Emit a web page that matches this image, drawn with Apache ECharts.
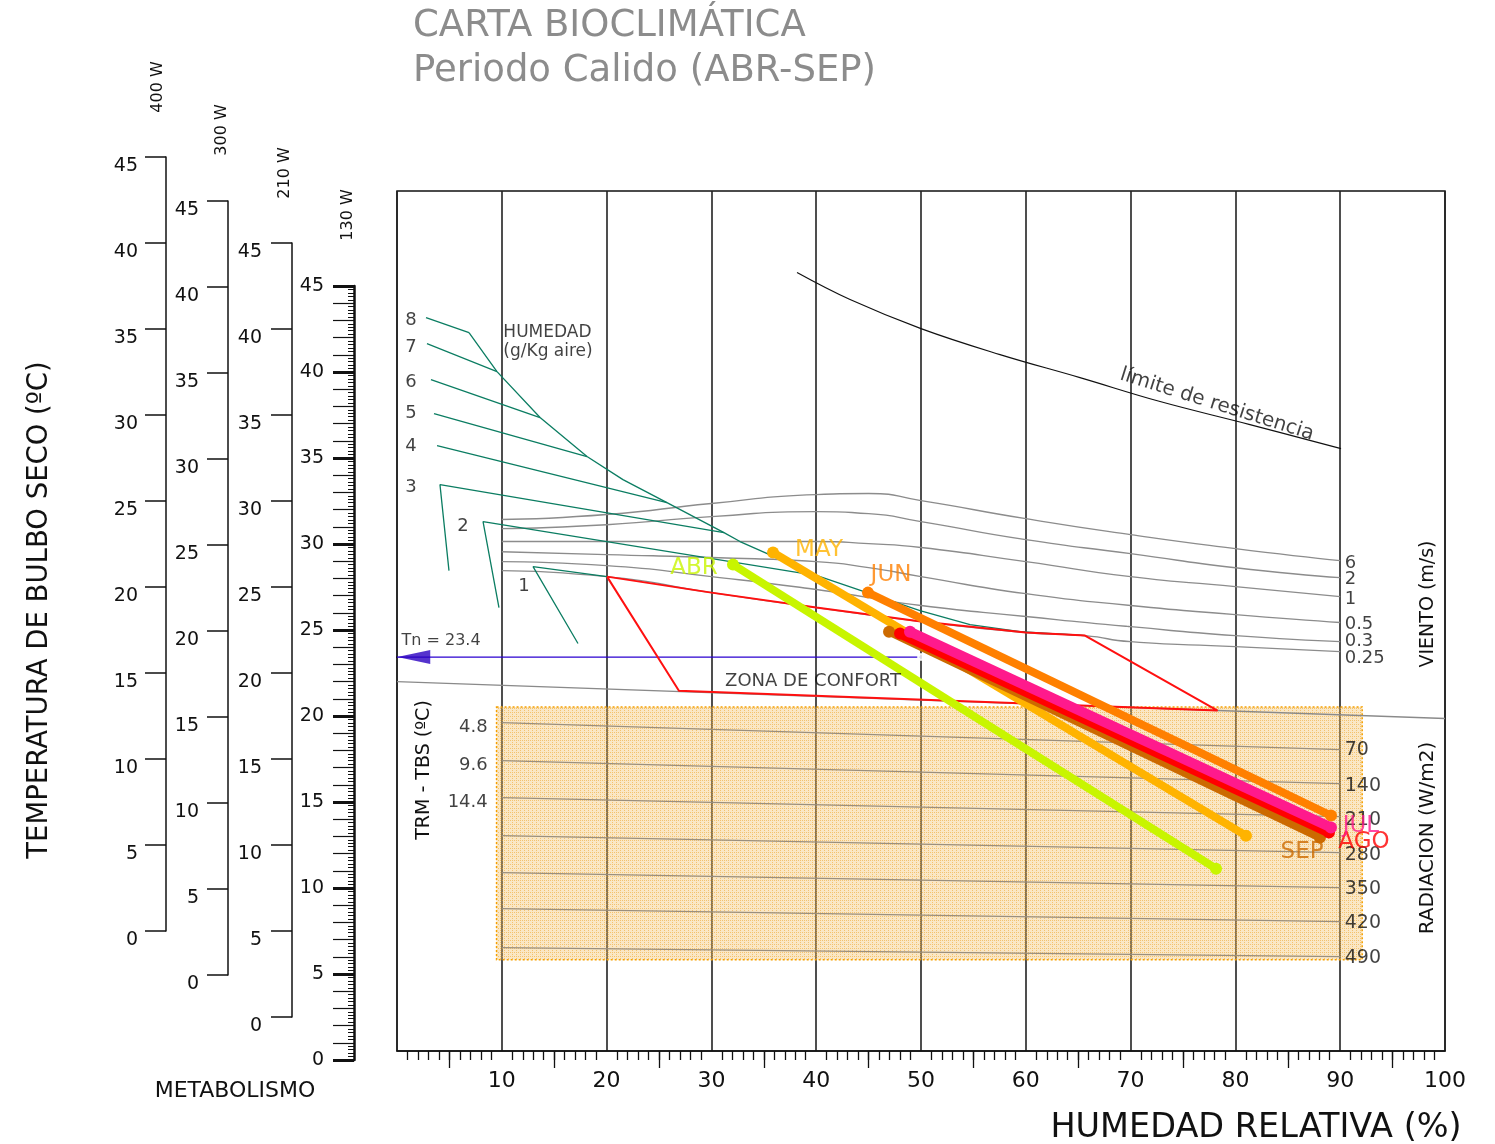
<!DOCTYPE html>
<html>
<head>
<meta charset="utf-8" />
<title>Carta bioclimática</title>
<script src="https://cdn.jsdelivr.net/npm/echarts@6/dist/echarts.min.js"></script>
<style>body{margin:0;background:#fff}</style>
</head>
<body>
<div id="main" style="width:1495px;height:1144px;"></div>
<script type="text/javascript">
// datos de la carta (x = humedad relativa %, y = temperatura ºC escala 130 W)
var rhTicks5 = [5, 15, 25, 35, 45, 55, 65, 75, 85, 95];
var tn = 23.4;
var tnRH = 50;

// viento (m/s)
var windNames = ['6', '2', '1', '0.5', '0.3', '0.25'];
var windLabelT = [28.84, 27.91, 26.74, 25.29, 24.30, 23.31];
var wind6 = [[10, 31.40], [20, 31.69], [30, 32.33], [40, 32.85], [45, 32.91], [50, 32.50], [60, 31.45], [70, 30.52], [80, 29.71], [90, 29.01]];
var wind2 = [[10, 30.87], [20, 31.10], [30, 31.57], [40, 31.86], [45, 31.74], [50, 31.28], [60, 30.23], [70, 29.42], [80, 28.60], [90, 28.02]];
var wind1 = [[10, 30.12], [20, 30.12], [30, 30.12], [40, 30.12], [45, 30.00], [50, 29.77], [60, 28.95], [70, 28.08], [80, 27.50], [90, 26.92]];
var wind05 = [[10, 29.53], [20, 29.36], [30, 29.19], [40, 28.95], [45, 28.60], [50, 28.08], [60, 27.09], [70, 26.40], [80, 25.87], [90, 25.41]];
var wind03 = [[10, 28.95], [20, 28.72], [30, 28.08], [40, 27.33], [45, 26.86], [50, 26.40], [60, 25.76], [70, 25.17], [80, 24.65], [90, 24.30]];
var wind025 = [[10, 28.43], [20, 28.08], [30, 27.15], [40, 26.28], [50, 25.47], [60, 24.83], [65.65, 24.65], [70, 24.30], [80, 24.01], [90, 23.72]];

// humedad absoluta (g/Kg aire)
var humNames = ['8', '7', '6', '5', '4', '3', '2', '1'];
var humLabelPos = [[1.34, 42.97], [1.34, 41.40], [1.34, 39.36], [1.34, 37.56], [1.34, 35.64], [1.34, 33.26], [6.30, 30.99], [12.12, 27.50]];
var hum8 = [[2.77, 43.14], [6.87, 42.27]];
var hum7 = [[2.86, 41.63], [9.54, 40.00]];
var hum6 = [[3.24, 39.53], [13.65, 37.33]];
var hum5 = [[3.53, 37.56], [18.13, 35.06]];
var hum4 = [[3.82, 35.70], [25.76, 32.38]];
var hum3 = [[4.96, 28.43], [4.10, 33.43], [31.20, 30.64]];
var hum2 = [[9.73, 26.28], [8.21, 31.28], [40.08, 28.14]];
var hum1 = [[17.27, 24.19], [12.98, 28.66], [20.04, 28.08]];
var humEnvelope = [[6.87, 42.27], [9.54, 40.00], [13.65, 37.33], [18.13, 35.06], [21.56, 33.72], [25.76, 32.38], [31.20, 30.64], [32.73, 30.12], [40.08, 28.14], [44.85, 27.15], [49.90, 26.10], [54.68, 25.29], [59.45, 24.88], [65.65, 24.65]];

// límite de resistencia
var limitCurve = [[38.17, 45.76], [43.23, 44.19], [50.00, 42.50], [57.54, 40.99], [65.17, 39.65], [72.81, 38.26], [81.39, 36.92], [90.08, 35.52]];

// zona de confort
var comfortZone = [[20.04, 28.08], [30, 27.15], [40, 26.28], [50, 25.47], [60, 24.83], [65.65, 24.65], [78.3, 20.29], [26.9, 21.45], [20.04, 28.08]];

// radiación (W/m2) y TRM - TBS
var radNames = ['70', '140', '210', '280', '350', '420', '490'];
var radLeft = [19.59, 17.38, 15.23, 13.02, 10.87, 8.78, 6.51];
var radRight = [18.02, 16.05, 14.13, 12.03, 10.00, 8.02, 5.99];
var radLabelT = [17.97, 15.93, 13.95, 11.92, 9.94, 7.91, 5.93];
var trmNames = ['4.8', '9.6', '14.4'];
var trmLabelT = [19.30, 17.09, 14.94];
var radBoxRH = [9.5, 92.1];
var radBoxT = [5.8, 20.5];
var trmZero = [[0, 21.98], [100, 19.83]];

// meses
var months = ['ABR', 'MAY', 'JUN', 'SEP', 'AGO', 'JUL'];
var monthColors = ['#c8f500', '#ffb300', '#ff8000', '#cc6a00', '#ff0000', '#ff1a8c'];
var monthWidth = [8, 8, 8, 8, 10, 10];
var monthStart = [[32.06, 28.78], [35.88, 29.48], [44.94, 27.15], [46.95, 24.88], [48.00, 24.77], [48.95, 24.88]];
var monthEnd = [[78.15, 11.10], [81.01, 13.02], [89.12, 14.19], [88.07, 12.91], [88.93, 13.20], [89.12, 13.49]];
var monthLabelPos = [[28.34, 28.60], [40.27, 29.65], [47.14, 28.20], [86.36, 12.09], [92.27, 12.67], [91.98, 13.60]];

var FONT = 'DejaVu Sans';
var myChart = echarts.init(document.getElementById('main'));

// textura punteada de la caja de radiación
var pat = document.createElement('canvas');
pat.width = 4; pat.height = 4;
var pc = pat.getContext('2d');
pc.fillStyle = 'rgba(240,188,95,0.36)';
pc.fillRect(0, 0, 4, 4);
pc.fillStyle = 'rgba(238,170,55,0.6)';
pc.fillRect(0, 0, 1, 1); pc.fillRect(2, 0, 1, 1); pc.fillRect(0, 2, 1, 1);

function line(data, color, width, smooth, z) {
  return {
    type: 'line', xAxisIndex: 0, yAxisIndex: 0, data: data, symbol: 'none',
    smooth: smooth || false, silent: true, clip: false, z: z || 3,
    lineStyle: { color: color, width: width }
  };
}

function labels(points, names, o) {
  return {
    type: 'scatter', xAxisIndex: 0, yAxisIndex: 0, silent: true, clip: false,
    symbolSize: 1, itemStyle: { color: 'rgba(0,0,0,0)' }, z: o.z || 12,
    data: points.map(function (p, i) {
      var d = { value: p, name: names[i] };
      if (o.colors) d.label = { color: o.colors[i] };
      return d;
    }),
    label: {
      show: true, formatter: '{b}', position: o.position || 'inside', distance: o.distance || 0,
      color: o.color || '#111', fontFamily: FONT, fontSize: o.size || 16, rotate: o.rotate || 0
    }
  };
}

function txt(str, x, y, size, color, rot, align) {
  return {
    type: 'text', x: x, y: y, rotation: rot || 0, silent: true,
    style: {
      text: str, font: size + 'px "' + FONT + '"', fill: color || '#111',
      textAlign: align || 'center', align: align || 'center',
      textVerticalAlign: 'middle', verticalAlign: 'middle'
    }
  };
}

var series = [];

// caja de radiación
series.push({
  type: 'custom', xAxisIndex: 0, yAxisIndex: 0, silent: true, z: 1,
  data: [[radBoxRH[0], radBoxRH[1], radBoxT[0], radBoxT[1]]],
  renderItem: function (params, api) {
    var p0 = api.coord([api.value(0), api.value(3)]);
    var p1 = api.coord([api.value(1), api.value(2)]);
    return {
      type: 'rect',
      shape: { x: p0[0], y: p0[1], width: p1[0] - p0[0], height: p1[1] - p0[1] },
      style: { fill: { image: pat, repeat: 'repeat' }, stroke: '#f5a000', lineWidth: 1.5, lineDash: [2, 2] }
    };
  }
});

series.push(line(trmZero, '#8a8a8a', 1.3));
radNames.forEach(function (n, i) {
  series.push(line([[10, radLeft[i]], [90, radRight[i]]], '#9a8f7e', 1.3));
});

[wind6, wind2, wind1, wind05, wind03, wind025].forEach(function (w) {
  series.push(line(w, '#8c8c8c', 1.4, 0.6));
});

[hum8, hum7, hum6, hum5, hum4, hum3, hum2, hum1].forEach(function (h) {
  series.push(line(h, '#0b7d62', 1.3));
});
series.push(line(humEnvelope, '#0b7d62', 1.3));

series.push(line(limitCurve, '#111', 1.2, 0.4));
series.push(line(comfortZone, '#ff1010', 2, false, 4));

// Tn
series.push(line([[-4.2, tn], [0, tn]], '#111', 1.2));
series.push(line([[0, tn], [tnRH, tn]], '#2a00d0', 1.2));
series.push({
  type: 'scatter', xAxisIndex: 0, yAxisIndex: 0, silent: true, clip: false, z: 6,
  data: [{ value: [1.6, tn], symbol: 'triangle', symbolRotate: 90, symbolSize: [14, 33], itemStyle: { color: '#2a00c0' } },
         { value: [tnRH, tn], symbol: 'emptyCircle', symbolSize: 6, itemStyle: { color: '#fff', borderColor: '#ff0000', borderWidth: 1.2 } }]
});

// meses
months.forEach(function (m, i) {
  series.push({
    type: 'line', xAxisIndex: 0, yAxisIndex: 0, silent: true, z: 8 + i,
    data: [monthStart[i], monthEnd[i]], symbol: 'circle', symbolSize: 12, showSymbol: true,
    itemStyle: { color: monthColors[i] }, lineStyle: { color: monthColors[i], width: monthWidth[i] }
  });
});

// textos
series.push(labels(humLabelPos, humNames, { size: 18 }));
series.push(labels([[10.1, 42.27], [10.1, 41.16]], ['HUMEDAD', '(g/Kg aire)'], { size: 17, position: 'right' }));
series.push(labels(windLabelT.map(function (t) { return [90, t]; }), windNames, { size: 18, position: 'right', distance: 4 }));
series.push(labels(radLabelT.map(function (t) { return [90, t]; }), radNames, { size: 19, position: 'right', distance: 4 }));
series.push(labels(trmLabelT.map(function (t) { return [8.8, t]; }), trmNames, { size: 18, position: 'left', distance: 1 }));
series.push(labels([[78.24, 38.08]], ['límite de resistencia'], { size: 20, rotate: -17.5 }));
series.push(labels([[39.7, 21.98]], ['ZONA DE CONFORT'], { size: 18 }));
series.push(labels([[4.2, 24.36]], ['Tn = ' + tn], { size: 16 }));
series.push(labels(monthLabelPos, months, { size: 23, colors: monthColors, z: 20 }));

function metaGrid(left, top) {
  return { left: left, top: top, width: 10, height: 774, show: false };
}
function hiddenX(g) {
  return { type: 'value', gridIndex: g, min: 0, max: 1, show: false };
}
function metaY(g, margin, vAlign) {
  return {
    type: 'value', gridIndex: g, position: 'left', min: 0, max: 45, interval: 5,
    axisLine: { show: true, onZero: false, lineStyle: { color: '#111', width: 1.5 } },
    axisTick: { show: true, length: 21, lineStyle: { color: '#111', width: 1.5 } },
    axisLabel: { show: true, margin: margin, fontSize: 19, color: '#111', fontFamily: FONT, verticalAlign: vAlign },
    splitLine: { show: false }
  };
}

var option = {
  backgroundColor: '#fff',
  animation: false,
  grid: [
    { left: 397, top: 191, width: 1048, height: 860, show: true, borderColor: '#111', borderWidth: 1.5 },
    metaGrid(166, 157),
    metaGrid(228, 201),
    metaGrid(292, 243),
    metaGrid(354, 286),
    metaGrid(354, 286),
    { left: 397, top: 191, width: 1048, height: 860, show: false }
  ],
  xAxis: [
    {
      type: 'value', gridIndex: 0, min: 0, max: 100, interval: 10, position: 'bottom',
      axisLine: { show: true, onZero: false, lineStyle: { color: '#111', width: 1.5 } },
      axisTick: { show: false },
      minorTick: { show: true, splitNumber: 10, length: 9, lineStyle: { color: '#111', width: 1.3 } },
      splitLine: { show: true, lineStyle: { color: '#222', width: 1.6 } },
      axisLabel: {
        margin: 19, fontSize: 22, color: '#111', fontFamily: FONT,
        formatter: function (v) { return v === 0 ? '' : v; }
      }
    },
    hiddenX(1), hiddenX(2), hiddenX(3), hiddenX(4), hiddenX(5),
    {
      type: 'value', gridIndex: 6, min: 0, max: 100, interval: 5, position: 'bottom',
      axisLine: { show: false }, axisLabel: { show: false }, splitLine: { show: false },
      axisTick: { show: true, length: 17, customValues: rhTicks5, lineStyle: { color: '#111', width: 1.3 } }
    }
  ],
  yAxis: [
    {
      type: 'value', gridIndex: 0, min: 0.5, max: 50.5,
      axisLine: { show: false }, axisTick: { show: false }, axisLabel: { show: false }, splitLine: { show: false }
    },
    metaY(1, 28, 'top'),
    metaY(2, 29, 'top'),
    metaY(3, 30, 'top'),
    {
      type: 'value', gridIndex: 4, position: 'left', min: 0, max: 45, interval: 1,
      axisLine: { show: true, onZero: false, lineStyle: { color: '#111', width: 2.5 } },
      axisTick: { show: true, length: 21, lineStyle: { color: '#111', width: 1.2 } },
      minorTick: { show: true, splitNumber: 5, length: 6, lineStyle: { color: '#111', width: 1 } },
      axisLabel: { show: false }, splitLine: { show: false }
    },
    {
      type: 'value', gridIndex: 5, position: 'left', min: 0, max: 45, interval: 5,
      axisLine: { show: false, onZero: false },
      axisTick: { show: true, length: 21, lineStyle: { color: '#111', width: 3 } },
      axisLabel: { show: true, margin: 30, fontSize: 19, color: '#111', fontFamily: FONT },
      splitLine: { show: false }
    },
    { type: 'value', gridIndex: 6, min: 0.5, max: 50.5, show: false }
  ],
  graphic: [
    txt('CARTA BIOCLIMÁTICA', 413, 26, 37, '#8c8c8c', 0, 'left'),
    txt('Periodo Calido (ABR-SEP)', 413, 71, 37, '#8c8c8c', 0, 'left'),
    txt('TEMPERATURA DE BULBO SECO (ºC)', 40, 610, 27.5, '#111', Math.PI / 2),
    txt('METABOLISMO', 235, 1091, 22, '#111'),
    txt('HUMEDAD RELATIVA (%)', 1256, 1128, 33.5, '#111'),
    txt('VIENTO (m/s)', 1428, 604, 19, '#111', Math.PI / 2),
    txt('RADIACION (W/m2)', 1428, 838, 20, '#111', Math.PI / 2),
    txt('TRM - TBS (ºC)', 424, 770, 19, '#111', Math.PI / 2),
    txt('400 W', 158, 87, 16, '#111', Math.PI / 2),
    txt('300 W', 222, 130, 16, '#111', Math.PI / 2),
    txt('210 W', 285, 173, 16, '#111', Math.PI / 2),
    txt('130 W', 348, 215, 16, '#111', Math.PI / 2)
  ],
  series: series
};

option && myChart.setOption(option);
</script>
</body>
</html>
